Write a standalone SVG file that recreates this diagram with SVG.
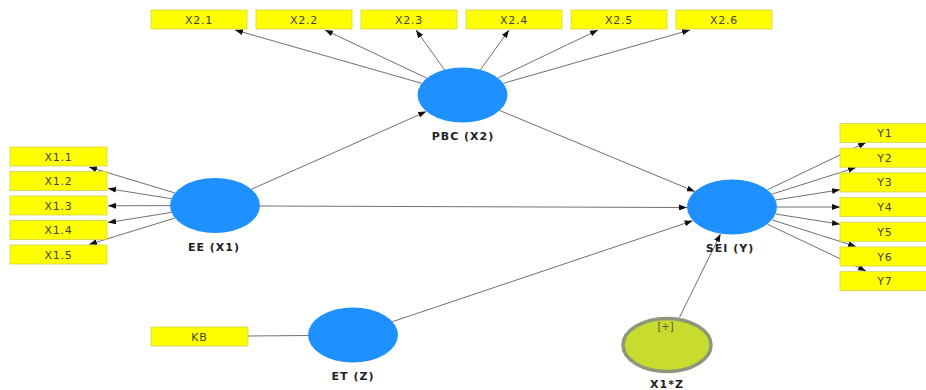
<svg xmlns="http://www.w3.org/2000/svg" width="926" height="390" viewBox="0 0 926 390">
<defs>
<marker id="ah" markerWidth="8" markerHeight="6" refX="8" refY="3" orient="auto" markerUnits="userSpaceOnUse">
<path d="M0,0 L8,3 L0,6 Z" fill="#111"/>
</marker>
<style>
.box{fill:#ffff00;stroke:#d2d24a;stroke-width:0.8}
.bt{font-family:"DejaVu Sans",sans-serif;font-size:11px;letter-spacing:0.8px;fill:#444;text-anchor:middle}
.lv{fill:#1e90ff}
.lab{font-family:"DejaVu Sans",sans-serif;font-size:11px;font-weight:bold;letter-spacing:1px;fill:#222;text-anchor:middle}
.c{stroke:#707070;stroke-width:1;fill:none}
.a{marker-end:url(#ah)}
</style>
</defs>
<rect width="926" height="390" fill="#ffffff"/>
<g id="connectors">
<line class="c a" x1="421.7" y1="83.3" x2="235" y2="30"/>
<line class="c a" x1="426.9" y1="78.2" x2="325" y2="30"/>
<line class="c a" x1="444.5" y1="69.8" x2="416" y2="30"/>
<line class="c a" x1="480.5" y1="69.8" x2="509" y2="30"/>
<line class="c a" x1="497.9" y1="78" x2="598" y2="30"/>
<line class="c a" x1="503.3" y1="83.3" x2="690" y2="30"/>
<line class="c a" x1="175" y1="193" x2="89" y2="167"/>
<line class="c a" x1="171.4" y1="198.7" x2="108" y2="188.6"/>
<line class="c a" x1="170" y1="205.6" x2="108" y2="205.8"/>
<line class="c a" x1="171.4" y1="212.4" x2="108" y2="222.6"/>
<line class="c a" x1="175" y1="218" x2="89" y2="244.5"/>
<line class="c a" x1="767.2" y1="189.9" x2="866" y2="142.5"/>
<line class="c a" x1="771.8" y1="194.2" x2="856" y2="167.5"/>
<line class="c a" x1="775.5" y1="200" x2="840" y2="189.8"/>
<line class="c a" x1="777" y1="207" x2="840" y2="207"/>
<line class="c a" x1="775.5" y1="214" x2="840" y2="224.2"/>
<line class="c a" x1="771.8" y1="219.8" x2="856" y2="246.5"/>
<line class="c a" x1="767.2" y1="224.1" x2="866" y2="271"/>
<line class="c a" x1="251.3" y1="189.3" x2="426.2" y2="111.6"/>
<line class="c a" x1="260" y1="206" x2="687" y2="207.5"/>
<line class="c a" x1="499.7" y1="110.5" x2="694.8" y2="191.5"/>
<line class="c a" x1="392.4" y1="321.7" x2="692.6" y2="220.8"/>
<line class="c a" x1="679.4" y1="317.6" x2="720.5" y2="234"/>
<line class="c" x1="248" y1="336" x2="308" y2="335.5"/>
</g>
<g id="X2.1"><rect class="box" x="151" y="10" width="96" height="19"/><text class="bt" x="199" y="23.5">X2.1</text></g>
<g id="X2.2"><rect class="box" x="256" y="10" width="96" height="19"/><text class="bt" x="304" y="23.5">X2.2</text></g>
<g id="X2.3"><rect class="box" x="361" y="10" width="96" height="19"/><text class="bt" x="409" y="23.5">X2.3</text></g>
<g id="X2.4"><rect class="box" x="466" y="10" width="96" height="19"/><text class="bt" x="514" y="23.5">X2.4</text></g>
<g id="X2.5"><rect class="box" x="571" y="10" width="96" height="19"/><text class="bt" x="619" y="23.5">X2.5</text></g>
<g id="X2.6"><rect class="box" x="676" y="10" width="96" height="19"/><text class="bt" x="724" y="23.5">X2.6</text></g>
<g id="X1.1"><rect class="box" x="10" y="147" width="97" height="19"/><text class="bt" x="58.5" y="160.5">X1.1</text></g>
<g id="X1.2"><rect class="box" x="10" y="171.5" width="97" height="19"/><text class="bt" x="58.5" y="185">X1.2</text></g>
<g id="X1.3"><rect class="box" x="10" y="196" width="97" height="19"/><text class="bt" x="58.5" y="209.5">X1.3</text></g>
<g id="X1.4"><rect class="box" x="10" y="220.5" width="97" height="19"/><text class="bt" x="58.5" y="234">X1.4</text></g>
<g id="X1.5"><rect class="box" x="10" y="245" width="97" height="19"/><text class="bt" x="58.5" y="258.5">X1.5</text></g>
<g id="Y1"><rect class="box" x="840" y="123.5" width="90" height="19"/><text class="bt" x="885" y="137">Y1</text></g>
<g id="Y2"><rect class="box" x="840" y="148.2" width="90" height="19"/><text class="bt" x="885" y="161.7">Y2</text></g>
<g id="Y3"><rect class="box" x="840" y="172.9" width="90" height="19"/><text class="bt" x="885" y="186.4">Y3</text></g>
<g id="Y4"><rect class="box" x="840" y="197.6" width="90" height="19"/><text class="bt" x="885" y="211.1">Y4</text></g>
<g id="Y5"><rect class="box" x="840" y="222.3" width="90" height="19"/><text class="bt" x="885" y="235.8">Y5</text></g>
<g id="Y6"><rect class="box" x="840" y="247" width="90" height="19"/><text class="bt" x="885" y="260.5">Y6</text></g>
<g id="Y7"><rect class="box" x="840" y="271.7" width="90" height="19"/><text class="bt" x="885" y="285.2">Y7</text></g>
<g id="KB"><rect class="box" x="151" y="327" width="97" height="19"/><text class="bt" x="199.5" y="340.5">KB</text></g>
<g id="PBC"><ellipse class="lv" cx="462.5" cy="95" rx="45" ry="27.5"/><text class="lab" x="463" y="140">PBC (X2)</text></g>
<g id="EE"><ellipse class="lv" cx="215" cy="205.5" rx="45" ry="27.5"/><text class="lab" x="214" y="251">EE (X1)</text></g>
<g id="SEI"><ellipse class="lv" cx="732" cy="207" rx="45" ry="27.5"/><text class="lab" x="730" y="252">SEI (Y)</text></g>
<g id="ET"><ellipse class="lv" cx="353" cy="335" rx="45" ry="27.5"/><text class="lab" x="353" y="380">ET (Z)</text></g>
<g id="X1Z"><ellipse cx="667" cy="345" rx="44" ry="26.5" fill="#c8dc30" stroke="#8c977c" stroke-width="3.5"/><text x="665.5" y="330" font-family="DejaVu Sans, sans-serif" font-size="10" fill="#5a5a3a" text-anchor="middle">[+]</text><text class="lab" x="667" y="388">X1*Z</text></g>
</svg>
